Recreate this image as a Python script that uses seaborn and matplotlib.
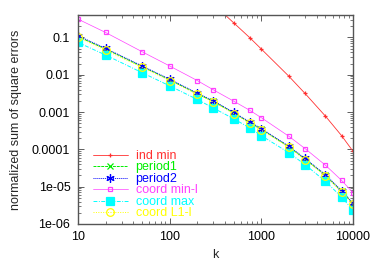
import numpy as np
import pandas as pd
import matplotlib
matplotlib.use("Agg")
import matplotlib.pyplot as plt
import seaborn as sns
from matplotlib.ticker import FixedLocator, FixedFormatter, LogLocator, NullFormatter

sns.set_theme(style="ticks")
plt.rcParams['font.family'] = ['Liberation Sans', 'DejaVu Sans']

k = [10, 20, 50, 100, 200, 300, 500, 750, 1000, 2000, 3000, 5000, 7500, 10000]

ind_min = [np.nan, np.nan, np.nan, np.nan, np.nan, 0.78, 0.246, 0.098, 0.0489, 0.0091, 0.00315, 0.00078, 0.000234, 8.9e-5]
period1 = [0.106, 0.049, 0.0166, 0.0073, 0.0031, 0.00193, 0.00095, 0.00052, 0.000348, 0.000117, 5.5e-5, 2.02e-5, 7.5e-6, 3.5e-6]
period2 = [0.111, 0.051, 0.0172, 0.0076, 0.00321, 0.0020, 0.00098, 0.00054, 0.00036, 0.000121, 5.7e-5, 2.09e-5, 7.8e-6, 3.6e-6]
coord_min_l = [0.31, 0.136, 0.0415, 0.0172, 0.0070, 0.00394, 0.00196, 0.00111, 0.000706, 0.000224, 0.000105, 3.78e-5, 1.48e-5, 6.9e-6]
coord_max = [0.0736, 0.0338, 0.0114, 0.00504, 0.00218, 0.00128, 0.00066, 0.000374, 0.000234, 8.1e-5, 3.9e-5, 1.39e-5, 5.3e-6, 2.34e-6]
coord_l1_l = [0.100, 0.046, 0.0158, 0.0070, 0.0030, 0.00186, 0.00091, 0.00050, 0.000335, 0.000113, 5.3e-5, 1.95e-5, 7.3e-6, 3.4e-6]

labels = ["ind min", "period1", "period2", "coord min-l", "coord max", "coord L1-l"]
colors = ["#ff3030", "#00ee00", "#0000ff", "#ff40ff", "#00ffff", "#ffff00"]
series = [ind_min, period1, period2, coord_min_l, coord_max, coord_l1_l]
styles = [
    dict(marker="+", linestyle="-", markersize=3.5, mfc="none", lw=0.6),
    dict(marker="x", linestyle=(0, (3, 1)), markersize=5, mfc="none", lw=0.7),
    dict(marker=(6, 2, 0), linestyle=(0, (1, 1)), markersize=6, mfc="none", lw=0.7),
    dict(marker="s", linestyle="-", markersize=3.5, mfc="none", lw=0.5),
    dict(marker="s", linestyle=(0, (4, 1.5, 1, 1.5)), markersize=5.5, mfc="#00ffff", lw=0.7),
    dict(marker="o", linestyle=(0, (1, 1.5)), markersize=5.5, mfc="none", lw=0.7),
]

fig = plt.figure(figsize=(3.74, 2.62), dpi=100)
ax = fig.add_axes([78/374, 1-224/262, (353-78)/374, (224-15)/262])

for lab, col, vals, st in zip(labels, colors, series, styles):
    df = pd.DataFrame({"k": k, "v": vals})
    sns.lineplot(data=df, x="k", y="v", ax=ax, color=col, label=lab,
                 linewidth=st["lw"], markeredgewidth=0.9, markeredgecolor=col,
                 marker=st["marker"], linestyle=st["linestyle"],
                 markersize=st["markersize"], markerfacecolor=st["mfc"],
                 estimator=None, sort=False)

ax.set_xscale("log")
ax.set_yscale("log")
ax.set_xlim(10, 10000)
ax.set_ylim(1e-6, 0.4)

ax.xaxis.set_major_locator(FixedLocator([10, 100, 1000, 10000]))
ax.xaxis.set_major_formatter(FixedFormatter(["10", "100", "1000", "10000"]))
ax.yaxis.set_major_locator(FixedLocator([1e-6, 1e-5, 1e-4, 1e-3, 1e-2, 1e-1]))
ax.yaxis.set_major_formatter(FixedFormatter(["1e-06", "1e-05", "0.0001", "0.001", "0.01", "0.1"]))
ax.xaxis.set_minor_locator(LogLocator(base=10, subs=np.arange(2, 10)))
ax.yaxis.set_minor_locator(LogLocator(base=10, subs=np.arange(2, 10)))
ax.xaxis.set_minor_formatter(NullFormatter())
ax.yaxis.set_minor_formatter(NullFormatter())

ax.tick_params(which="both", direction="in", top=True, right=True, color="#444444",
               labelsize=9, labelcolor="black")
ax.tick_params(axis="y", which="major", pad=5.5)
ax.tick_params(axis="x", which="major", pad=5)
ax.tick_params(which="major", length=4, width=0.6)
ax.tick_params(which="minor", length=2, width=0.5)
for s in ax.spines.values():
    s.set_color("#555555")
    s.set_linewidth(1.0)

ax.set_xlabel("k", fontsize=9)
ax.set_ylabel("normalized sum of square errors", fontsize=9)
ax.yaxis.set_label_coords(-0.203, 0.5)
ax.xaxis.set_label_coords(0.5, -0.12)

leg = ax.legend(loc="lower left", bbox_to_anchor=(0.055, 0.022), frameon=False,
                fontsize=9, handlelength=2.75, handletextpad=0.65,
                labelspacing=-0.04, borderaxespad=0.0, borderpad=0.0, numpoints=1,
                labelcolor="linecolor")

fig.savefig("out.png", dpi=100)
